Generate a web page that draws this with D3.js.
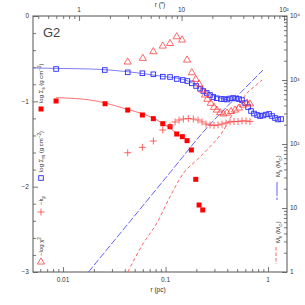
<!DOCTYPE html>
<html>
<head>
<meta charset="utf-8">
<script src="https://cdn.jsdelivr.net/npm/d3@7"></script>
<style>
  body { margin: 0; background: #fff; }
  svg text { font-family: "Liberation Sans", "DejaVu Sans", sans-serif; fill: #333; }
</style>
</head>
<body>
<div id="chart"></div>
<script>
// log10 r (pc) and values
const sigmaSLogR = [-2.068, -1.593, -1.369, -1.226, -1.119, -1.027, -0.956, -0.891, -0.832, -0.787,
  -0.744, -0.702, -0.663, -0.631, -0.598, -0.566, -0.534, -0.500, -0.459, -0.429, -0.400, -0.371,
  -0.341, -0.312, -0.283, -0.254, -0.224, -0.195, -0.166, -0.137, -0.107, -0.078, -0.049, -0.020,
  0.010, 0.039, 0.068, 0.098, 0.127];
const sigmaS = [-0.621, -0.633, -0.660, -0.671, -0.683, -0.711, -0.715, -0.738, -0.750, -0.762,
  -0.789, -0.820, -0.852, -0.879, -0.902, -0.926, -0.949, -0.964, -0.973, -0.973, -0.979, -0.967,
  -0.961, -0.967, -0.973, -0.985, -1.020, -1.067, -1.113, -1.143, -1.160, -1.172, -1.166, -1.155,
  -1.148, -1.172, -1.195, -1.213, -1.207];

const sigmaMLogR = [-2.068, -1.590, -1.369, -1.226, -1.119, -1.027, -0.956, -0.891, -0.836, -0.790,
  -0.748, -0.705, -0.673, -0.637];
const sigmaM = [-0.996, -1.028, -1.102, -1.160, -1.203, -1.262, -1.297, -1.383, -1.414, -1.461,
  -1.570, -1.914, -2.215, -2.273];

const fitSLogR = [-2.293, -2.029, -1.737, -1.346, -1.054, -0.810, -0.663, -0.517, -0.390];
const fitS = [-0.609, -0.615, -0.621, -0.656, -0.703, -0.750, -0.832, -0.938, -0.984];
const fitMLogR = [-2.068, -1.737, -1.415, -1.083, -0.829];
const fitM = [-0.957, -0.984, -1.078, -1.219, -1.430];

const kRhoLogR = [-1.369, -1.226, -1.119, -1.027, -0.956, -0.907, -0.868, -0.826, -0.778, -0.729,
  -0.683, -0.644, -0.605, -0.566, -0.527, -0.488, -0.449, -0.410, -0.371, -0.332, -0.293, -0.254,
  -0.215, -0.176];
const kRho = [-1.602, -1.539, -1.465, -1.336, -1.289, -1.242, -1.219, -1.207, -1.201, -1.207,
  -1.219, -1.242, -1.266, -1.277, -1.283, -1.277, -1.266, -1.254, -1.242, -1.236, -1.236, -1.230,
  -1.230, -1.236];

const chiLogR = [-1.369, -1.222, -1.119, -1.027, -0.956, -0.891, -0.839, -0.790, -0.744, -0.705,
  -0.673, -0.641, -0.615, -0.592, -0.559, -0.527, -0.500, -0.468, -0.436, -0.400, -0.361, -0.322,
  -0.283, -0.244, -0.205, -0.176];
const chi = [-0.539, -0.496, -0.418, -0.352, -0.322, -0.243, -0.281, -0.516, -0.664, -0.742,
  -0.797, -0.867, -0.926, -0.976, -1.023, -1.070, -1.102, -1.133, -1.148, -1.137, -1.119, -1.102,
  -1.078, -1.043, -1.020, -1.031];

// cumulative masses, log10 M (Msun)
const massSLogR = [-1.752, -1.346, -0.956, -0.615, -0.322, -0.049];
const massS = [0, 0.792, 1.553, 2.219, 2.713, 3.156];
const massVLogR = [-1.368, -1.217, -1.086, -0.956, -0.826, -0.696, -0.598, -0.452, -0.322, -0.195, -0.127, -0.059];
const massV = [0, 0.448, 0.761, 1.177, 1.542, 1.750, 1.906, 2.172, 2.531, 2.813, 2.906, 3.0];

const xTicks = [0.01, 0.1, 1];
const xTickLabels = ["0.01", "0.1", "1"];
const topTicks = [1, 10, 100];
const topTickLabels = ["1", "10", "10²"];
const yTicks = [0, -1, -2, -3];
const mTicks = [1, 10, 100, 1000, 10000];
const mTickLabels = ["1", "10", "10²", "10³", "10⁴"];

const W = 305, H = 305;
const pcPerArcsec = 0.01433;
const L = 33, R = 287, T = 16, B = 272;

const svg = d3.select("#chart").append("svg")
  .attr("width", W).attr("height", H);

const x = d3.scaleLog().domain([Math.pow(10, -2.293), Math.pow(10, 0.185)]).range([L, R]);
const xTop = d3.scaleLog().domain(x.domain().map(d => d / pcPerArcsec)).range([L, R]);
const y = d3.scaleLinear().domain([-3, 0]).range([B, T]);
const yM = d3.scaleLog().domain([1, 1e4]).range([B, T]);

const axisColor = "#555";

// minor ticks for log axes
function logMinor(scale) {
  const [a, b] = scale.domain();
  const out = [];
  for (let e = Math.floor(Math.log10(a)); e <= Math.ceil(Math.log10(b)); e++) {
    for (let k = 2; k <= 9; k++) {
      const v = k * Math.pow(10, e);
      if (v >= a && v <= b) out.push(v);
    }
  }
  return out;
}

svg.append("g").attr("transform", `translate(0,${B})`)
  .call(d3.axisTop(x).tickValues(xTicks).tickSize(5).tickFormat(""));
svg.append("g").attr("transform", `translate(0,${B})`)
  .call(d3.axisTop(x).tickValues(logMinor(x)).tickSize(3).tickFormat(""));
svg.append("g").attr("transform", `translate(0,${T})`)
  .call(d3.axisBottom(xTop).tickValues(topTicks).tickSize(5).tickFormat(""));
svg.append("g").attr("transform", `translate(0,${T})`)
  .call(d3.axisBottom(xTop).tickValues(logMinor(xTop)).tickSize(3).tickFormat(""));
svg.append("g").attr("transform", `translate(${L},0)`)
  .call(d3.axisRight(y).tickValues(yTicks).tickSize(5).tickFormat(""));
svg.append("g").attr("transform", `translate(${L},0)`)
  .call(d3.axisRight(y).tickValues(d3.range(-2.8, 0, 0.2).filter(v => Math.abs(v - Math.round(v)) > 0.01)).tickSize(3).tickFormat(""));
svg.append("g").attr("transform", `translate(${R},0)`)
  .call(d3.axisLeft(yM).tickValues(mTicks).tickSize(5).tickFormat(""));
svg.append("g").attr("transform", `translate(${R},0)`)
  .call(d3.axisLeft(yM).tickValues(logMinor(yM)).tickSize(3).tickFormat(""));

svg.selectAll(".domain").remove();
svg.selectAll(".tick line").attr("stroke", axisColor).attr("stroke-width", 0.8);

svg.append("rect").attr("x", L).attr("y", T).attr("width", R - L).attr("height", B - T)
  .attr("fill", "none").attr("stroke", axisColor).attr("stroke-width", 1);

// tick labels
svg.selectAll(".xl").data(xTicks).enter().append("text")
  .attr("x", d => x(d)).attr("y", B + 10).attr("text-anchor", "middle")
  .attr("font-size", 6.5).text((d, i) => xTickLabels[i]);
svg.selectAll(".tl").data(topTicks).enter().append("text")
  .attr("x", d => xTop(d)).attr("y", T - 4).attr("text-anchor", "middle")
  .attr("font-size", 6.5).text((d, i) => topTickLabels[i]);
svg.selectAll(".yl").data(yTicks).enter().append("text")
  .attr("x", L - 4).attr("y", d => y(d) + 2.3).attr("text-anchor", "end")
  .attr("font-size", 6.5).text(d => d === 0 ? "0" : "\u2212" + Math.abs(d));
svg.selectAll(".ml").data(mTicks).enter().append("text")
  .attr("x", R + 3).attr("y", d => yM(d) + 2.3).attr("text-anchor", "start")
  .attr("font-size", 6.5).text((d, i) => mTickLabels[i]);

svg.append("text").attr("x", 160).attr("y", 7).attr("text-anchor", "middle")
  .attr("font-size", 6.5).text("r (\u2033)");
svg.append("text").attr("x", 158).attr("y", 292).attr("text-anchor", "middle")
  .attr("font-size", 6.5).text("r (pc)");

svg.append("text").attr("x", 43).attr("y", 37).attr("font-size", 13).attr("font-weight", 300)
  .style("fill", "#444").text("G2");

// lines
const lineL = d3.line().x(d => x(Math.pow(10, d[0]))).y(d => y(d[1])).curve(d3.curveMonotoneX);
const lineM = d3.line().x(d => x(Math.pow(10, d[0]))).y(d => yM(Math.pow(10, d[1]))).curve(d3.curveMonotoneX);

svg.append("defs").append("clipPath").attr("id", "clip")
  .append("rect").attr("x", L).attr("y", T).attr("width", R - L).attr("height", B - T);
const g = svg.append("g").attr("clip-path", "url(#clip)");

g.append("path").datum(d3.zip(fitSLogR, fitS)).attr("d", lineL)
  .attr("fill", "none").attr("stroke", "#6f6fff").attr("stroke-width", 0.9);
g.append("path").datum(d3.zip(fitMLogR, fitM)).attr("d", lineL)
  .attr("fill", "none").attr("stroke", "#ff6060").attr("stroke-width", 0.9);

g.append("path").datum(d3.zip(massSLogR, massS)).attr("d", lineM)
  .attr("fill", "none").attr("stroke", "#5050ff").attr("stroke-width", 0.9).attr("stroke-dasharray", "7,2");
g.append("path").datum(d3.zip(massVLogR, massV)).attr("d", lineM)
  .attr("fill", "none").attr("stroke", "#ff5050").attr("stroke-width", 0.9).attr("stroke-dasharray", "3.5,2.5");

// markers
g.selectAll(".sq").data(d3.zip(sigmaSLogR, sigmaS)).enter().append("rect")
  .attr("x", d => x(Math.pow(10, d[0])) - 2.3).attr("y", d => y(d[1]) - 2.3)
  .attr("width", 4.6).attr("height", 4.6).attr("fill", "none")
  .attr("stroke", "#2a2aff").attr("stroke-width", 0.9);

g.selectAll(".fs").data(d3.zip(sigmaMLogR, sigmaM)).enter().append("rect")
  .attr("x", d => x(Math.pow(10, d[0])) - 2.5).attr("y", d => y(d[1]) - 2.5)
  .attr("width", 5).attr("height", 5).attr("fill", "#f00");

const tri = d3.symbol().type(d3.symbolTriangle).size(22);
g.selectAll(".tr").data(d3.zip(chiLogR, chi)).enter().append("path")
  .attr("d", tri).attr("transform", d => `translate(${x(Math.pow(10, d[0]))},${y(d[1])})`)
  .attr("fill", "none").attr("stroke", "#ff4040").attr("stroke-width", 0.8);

const crossPath = "M-3.5,0H3.5M0,-3.5V3.5";
g.selectAll(".cr").data(d3.zip(kRhoLogR, kRho)).enter().append("path")
  .attr("d", crossPath).attr("transform", d => `translate(${x(Math.pow(10, d[0]))},${y(d[1])})`)
  .attr("fill", "none").attr("stroke", "#ff4040").attr("stroke-width", 0.8);

// legend (rotated labels inside the frame)
function vlabel(xp, yp, parts) {
  const t = svg.append("text").attr("transform", `translate(${xp},${yp}) rotate(-90)`)
    .attr("font-size", 6);
  parts.forEach(p => {
    t.append("tspan").attr("dy", p.dy || 0).attr("font-size", p.fs || 6).text(p.t);
  });
  return t;
}
vlabel(43, 103, [{t: "log \u03A3"}, {t: "s", dy: 1.5, fs: 4.5}, {t: " (g cm", dy: -1.5}, {t: "\u22122", dy: -2, fs: 4.5}, {t: ")", dy: 2}]);
svg.append("rect").attr("x", 38.5).attr("y", 106.5).attr("width", 5).attr("height", 5).attr("fill", "#f00");

vlabel(43, 172, [{t: "log \u03A3"}, {t: "m", dy: 1.5, fs: 4.5}, {t: " (g cm", dy: -1.5}, {t: "\u22122", dy: -2, fs: 4.5}, {t: ")", dy: 2}]);
svg.append("rect").attr("x", 38.7).attr("y", 175.7).attr("width", 4.6).attr("height", 4.6)
  .attr("fill", "none").attr("stroke", "#2a2aff").attr("stroke-width", 0.9);

vlabel(43, 205, [{t: "\u2212k"}, {t: "\u03C1", dy: 1.5, fs: 4.5}]);
svg.append("path").attr("d", crossPath).attr("transform", "translate(41,212)")
  .attr("stroke", "#ff4040").attr("stroke-width", 0.8);

vlabel(43, 256, [{t: "\u2212log \u03C7"}, {t: "2", dy: -2, fs: 4.5}]);
svg.append("path").attr("d", tri).attr("transform", "translate(41,262)")
  .attr("fill", "none").attr("stroke", "#ff4040").attr("stroke-width", 0.8);

vlabel(280, 177, [{t: "M"}, {t: "s", dy: 1.5, fs: 4.5}, {t: " (M", dy: -1.5}, {t: "\u2299", dy: 1.5, fs: 4.5}, {t: ")", dy: -1.5}]);
svg.append("line").attr("x1", 277).attr("x2", 277).attr("y1", 182).attr("y2", 200)
  .attr("stroke", "#5050ff").attr("stroke-width", 0.9).attr("stroke-dasharray", "14,1.5");

vlabel(280, 243, [{t: "M"}, {t: "v", dy: 1.5, fs: 4.5}, {t: " (M", dy: -1.5}, {t: "\u2299", dy: 1.5, fs: 4.5}, {t: ")", dy: -1.5}]);
svg.append("line").attr("x1", 276).attr("x2", 276).attr("y1", 247).attr("y2", 264)
  .attr("stroke", "#ff5050").attr("stroke-width", 0.9).attr("stroke-dasharray", "3.5,2");
</script>
</body>
</html>
